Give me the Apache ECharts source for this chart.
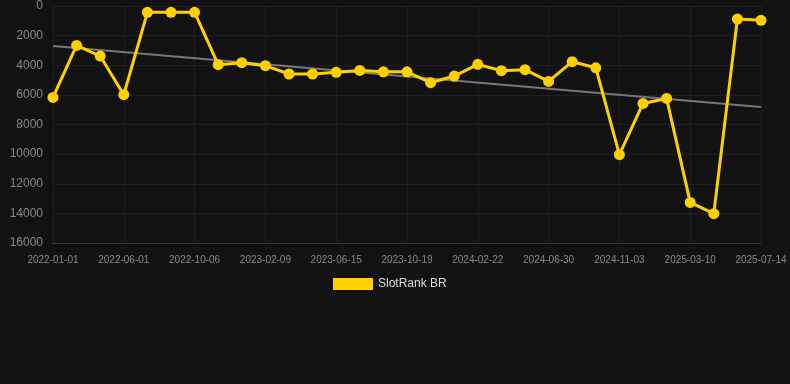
<!DOCTYPE html>
<html><head><meta charset="utf-8">
<script src="https://cdn.jsdelivr.net/npm/echarts@6/dist/echarts.min.js"></script>
<style>html,body{margin:0;padding:0;background:#121212;}#c{width:790px;height:384px;}</style>
</head><body><div id="c"></div>
<script>
const categories = ['2022-01-01','2022-02-20','2022-04-11','2022-06-01','2022-07-13','2022-08-24','2022-10-06','2022-11-17','2022-12-29','2023-02-09','2023-03-23','2023-05-04','2023-06-15','2023-07-27','2023-09-07','2023-10-19','2023-11-30','2024-01-11','2024-02-22','2024-04-05','2024-05-18','2024-06-30','2024-08-11','2024-09-22','2024-11-03','2024-12-15','2025-01-27','2025-03-10','2025-04-21','2025-06-02','2025-07-14'];
const rankValues = [6170,2660,3380,5990,430,430,430,3960,3830,4030,4590,4590,4480,4350,4440,4440,5180,4730,3940,4370,4300,5090,3760,4170,10040,6580,6240,13260,14020,880,970];
const trendValues = [2700, 6820];
const yTicks = [0,2000,4000,6000,8000,10000,12000,14000,16000];

const chart = echarts.init(document.getElementById('c'));
chart.setOption({
  backgroundColor:'#121212',
  animation:false,
  grid:{left:53,right:29,top:6,bottom:141},
  legend:{
    data:['SlotRank BR'], top:273, left:328,
    itemWidth:40, itemHeight:12, icon:'rect', itemGap:10,
    textStyle:{color:'#dddddd', fontSize:12, fontFamily:'Liberation Sans'}
  },
  xAxis:{
    type:'category', data:categories, boundaryGap:false,
    axisLine:{onZero:false, lineStyle:{color:'#333'}},
    axisTick:{show:false},
    axisLabel:{interval:2, color:'#888', fontSize:10, fontFamily:'Liberation Sans', margin:12},
    splitLine:{show:true, interval:2, lineStyle:{color:'#1e1e1e'}}
  },
  yAxis:{
    type:'value', inverse:true, min:yTicks[0], max:yTicks[yTicks.length-1], interval:2000,
    axisLine:{show:false}, axisTick:{show:false},
    axisLabel:{color:'#888', fontSize:12, fontFamily:'Liberation Sans', margin:10, formatter:function(v){return String(v);}},
    splitLine:{lineStyle:{color:'#1e1e1e'}}
  },
  series:[
    {
      name:'SlotRank BR', type:'line', data:rankValues,
      symbol:'circle', symbolSize:11,
      itemStyle:{color:'#FFD000'},
      lineStyle:{color:'#FFD000', width:3}, z:3
    },
    {
      name:'trend', type:'line',
      data:[[categories[0],trendValues[0]],[categories[categories.length-1],trendValues[1]]],
      symbol:'none', lineStyle:{color:'#777', width:2}, itemStyle:{color:'#777'}, z:2, silent:true
    }
  ]
});
</script></body></html>
